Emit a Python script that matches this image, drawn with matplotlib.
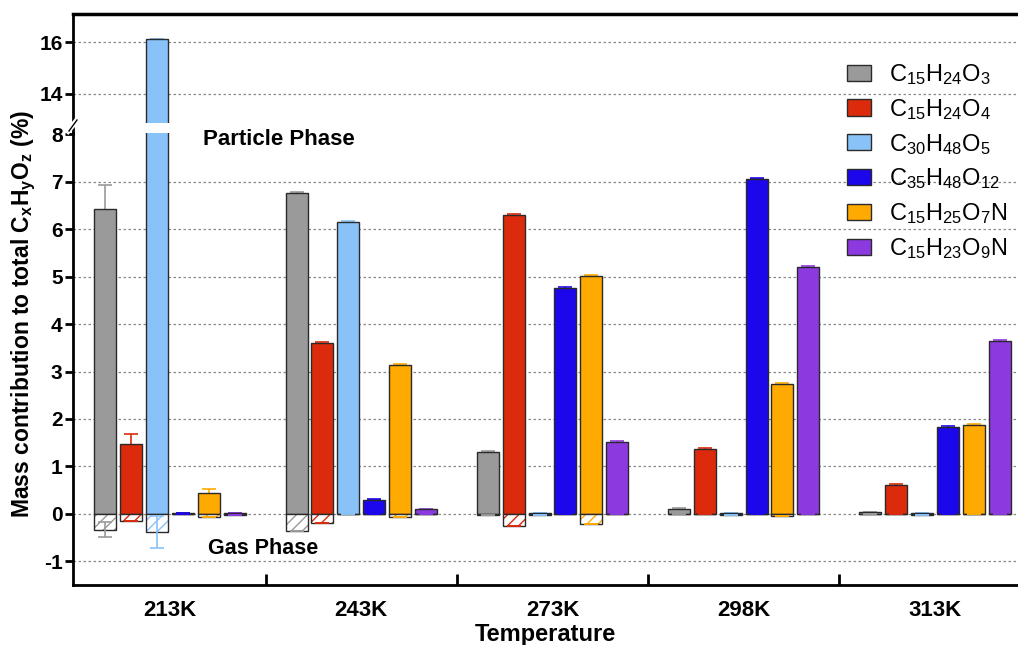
import matplotlib
matplotlib.use("Agg")
import matplotlib.pyplot as plt
import numpy as np
from matplotlib.patches import Patch
from matplotlib.lines import Line2D

plt.rcParams['font.family'] = ['Liberation Sans', 'DejaVu Sans']
plt.rcParams['mathtext.fontset'] = 'custom'
plt.rcParams['mathtext.rm'] = 'Liberation Sans'
plt.rcParams['mathtext.it'] = 'Liberation Sans:italic'
plt.rcParams['mathtext.bf'] = 'Liberation Sans:bold'
plt.rcParams['hatch.linewidth'] = 1.0

temps = ['213K', '243K', '273K', '298K', '313K']
species = ['C$_{15}$H$_{24}$O$_3$', 'C$_{15}$H$_{24}$O$_4$', 'C$_{30}$H$_{48}$O$_5$',
           'C$_{35}$H$_{48}$O$_{12}$', 'C$_{15}$H$_{25}$O$_7$N', 'C$_{15}$H$_{23}$O$_9$N']
colors = ['#9a9a9a', '#dc2a0c', '#88c2f8', '#1c06ec', '#ffaa00', '#8c3ae0']

# particle phase (positive)
p_c15h24o3 = [6.42, 6.77, 1.30, 0.10, 0.03]
p_c15h24o4 = [1.48, 3.60, 6.30, 1.37, 0.60]
p_c30h48o5 = [16.10, 6.15, 0.01, 0.01, 0.01]
p_c35h48o12 = [0.01, 0.30, 4.76, 7.07, 1.84]
p_c15h25o7n = [0.45, 3.13, 5.02, 2.73, 1.88]
p_c15h23o9n = [0.01, 0.10, 1.52, 5.20, 3.64]
particle = [p_c15h24o3, p_c15h24o4, p_c30h48o5, p_c35h48o12, p_c15h25o7n, p_c15h23o9n]

# particle phase errors
pe_c15h24o3 = [0.51, 0.02, 0.02, 0.02, 0.01]
pe_c15h24o4 = [0.20, 0.02, 0.02, 0.02, 0.02]
pe_c30h48o5 = [0.00, 0.02, 0.00, 0.00, 0.00]
pe_c35h48o12 = [0.00, 0.01, 0.02, 0.02, 0.02]
pe_c15h25o7n = [0.08, 0.02, 0.02, 0.02, 0.02]
pe_c15h23o9n = [0.00, 0.01, 0.02, 0.02, 0.02]
particle_err = [pe_c15h24o3, pe_c15h24o4, pe_c30h48o5, pe_c35h48o12, pe_c15h25o7n, pe_c15h23o9n]

# gas phase (negative)
g_c15h24o3 = [-0.33, -0.36, -0.03, 0.0, 0.0]
g_c15h24o4 = [-0.16, -0.19, -0.25, 0.0, 0.0]
g_c30h48o5 = [-0.38, 0.0, -0.02, -0.02, -0.02]
g_c35h48o12 = [0.0, 0.0, 0.0, 0.0, 0.0]
g_c15h25o7n = [-0.06, -0.06, -0.21, -0.04, 0.0]
g_c15h23o9n = [-0.02, 0.0, 0.0, 0.0, 0.0]
gas = [g_c15h24o3, g_c15h24o4, g_c30h48o5, g_c35h48o12, g_c15h25o7n, g_c15h23o9n]

ge_c15h24o3 = [0.15, 0, 0, 0, 0]
ge_c30h48o5 = [0.33, 0, 0, 0, 0]
gas_err = [ge_c15h24o3, [0]*5, ge_c30h48o5, [0]*5, [0]*5, [0]*5]

W, H = 1018, 645
fig = plt.figure(figsize=(W/100, H/100), dpi=100)
left = 73/W
ax_top = fig.add_axes([left, 1-123/H, 1-left, (123-14)/H])
ax_bot = fig.add_axes([left, 1-585/H, 1-left, (585-133)/H])

x = np.arange(len(temps))
step = 0.135
width = 0.115
edge = '#2a2a2a'
TICK_FS = 15

for ax in (ax_top, ax_bot):
    for i in range(len(species)):
        xs = x + (i - 2.5) * step
        ax.errorbar(xs, particle[i], yerr=particle_err[i], fmt='none', ecolor=colors[i],
                    elinewidth=1.2, capsize=5, capthick=1.2, zorder=1)
        ax.bar(xs, particle[i], width=width, color=colors[i], edgecolor=edge,
               linewidth=1.0, zorder=2)
        ax.bar(xs, gas[i], width=width, color='white', edgecolor=colors[i],
               hatch='///', linewidth=0, zorder=2)
        ax.bar(xs, gas[i], width=width, fill=False, edgecolor=edge,
               linewidth=1.0, zorder=3)
        ax.errorbar(xs, gas[i], yerr=gas_err[i], fmt='none', ecolor=colors[i],
                    elinewidth=1.2, capsize=5, capthick=1.2, zorder=4)
    ax.set_xlim(-0.507, 4.434)
    ax.spines['right'].set_visible(False)
    ax.spines['left'].set_linewidth(2)
    ax.tick_params(axis='y', direction='out', length=6, width=2, pad=1.5)

# top axes
ax_top.set_ylim(12.88, 17.08)
ax_top.set_yticks([14, 16])
ax_top.set_yticklabels(['14', '16'], fontweight='bold', fontsize=TICK_FS)
ax_top.spines['bottom'].set_visible(False)
ax_top.spines['top'].set_linewidth(2.5)
ax_top.set_xticks([])
for yv in [14, 16]:
    ax_top.axhline(yv, color='#888888', lw=0.9, ls=(0, (2, 2)), zorder=0)

# bottom axes
ax_bot.set_ylim(-1.5, 8.03)
ax_bot.set_yticks(list(range(-1, 9)))
ax_bot.set_yticklabels([str(v) for v in range(-1, 9)], fontweight='bold', fontsize=TICK_FS)
ax_bot.spines['top'].set_visible(False)
ax_bot.spines['bottom'].set_linewidth(2)
for yv in range(-1, 8):
    ax_bot.axhline(yv, color='#888888', lw=0.9, ls=(0, (2, 2)), zorder=0)
ax_bot.set_xticks(x)
ax_bot.set_xticklabels(temps, fontweight='bold', fontsize=16)
ax_bot.tick_params(axis='x', which='major', length=0, pad=11)
ax_bot.set_xticks(x[:-1] + 0.5, minor=True)
ax_bot.tick_params(axis='x', which='minor', direction='in', length=8, width=2)
ax_bot.set_xlabel('Temperature', fontweight='bold', fontsize=17, labelpad=1)

# spine connection and break mark
fig.add_artist(Line2D([left, left], [1-134/H, 1-122/H], color='black', lw=2))
fig.add_artist(Line2D([left-5/W, left+5/W], [1-131/H, 1-119/H], color='white', lw=4))
fig.add_artist(Line2D([left-4/W, left+4/W], [1-131/H, 1-120/H], color='black', lw=1))

ax_bot.text(0.173, 7.89, 'Particle Phase', fontweight='bold', fontsize=16, va='center', ha='left')
ax_bot.text(0.2, -0.74, 'Gas Phase', fontweight='bold', fontsize=15.5, va='center', ha='left')

fig.text(24/W, 1-314/H, r'Mass contribution to total C$_\mathbf{x}$H$_\mathbf{y}$O$_\mathbf{z}$ (%)',
         rotation=90, ha='center', va='center', fontweight='bold', fontsize=16.5)

handles = [Patch(facecolor=c, edgecolor=edge, linewidth=1.0) for c in colors]
fig.legend(handles, species, loc='upper left', bbox_to_anchor=(847/W, 1-62/H),
           frameon=False, fontsize=17, handlelength=1.02, handleheight=0.68,
           handletextpad=0.76, labelspacing=0.42, borderaxespad=0, borderpad=0)

fig.savefig('out.png', dpi=100)
